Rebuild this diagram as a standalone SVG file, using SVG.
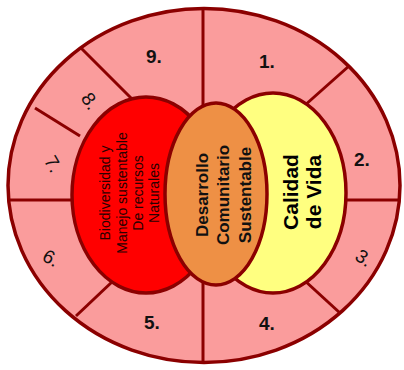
<svg xmlns="http://www.w3.org/2000/svg" width="404" height="370" viewBox="0 0 404 370">
<style>
.ln{stroke:#8B0000;stroke-width:3;fill:none;stroke-linecap:butt}
.sh{stroke:#8B0000;stroke-width:3.5}
.num{font-family:"Liberation Sans",Arial,sans-serif;font-size:19px;fill:#111}
.b{font-weight:bold}
.rt{font-family:"Liberation Sans",Arial,sans-serif;font-size:14px;fill:#2a0000;text-anchor:middle}
.ot{font-family:"Liberation Sans",Arial,sans-serif;font-size:17px;font-weight:bold;fill:#111;text-anchor:middle}
.yt{font-family:"Liberation Sans",Arial,sans-serif;font-size:21px;font-weight:bold;fill:#000;text-anchor:middle}
</style>
<rect width="404" height="370" fill="#fff"/>
<g id="ring">
<ellipse cx="204" cy="185.5" rx="196" ry="177" fill="#FA9C9C" class="sh"/>
</g>
<g id="connectors">
<line class="ln" x1="203" y1="9" x2="203" y2="108"/>
<line class="ln" x1="203" y1="282" x2="203" y2="362"/>
<line class="ln" x1="9" y1="200" x2="75" y2="200"/>
<line class="ln" x1="343" y1="200" x2="399" y2="200"/>
<line class="ln" x1="81" y1="48" x2="134" y2="101"/>
<line class="ln" x1="35" y1="108" x2="80" y2="136"/>
<line class="ln" x1="349" y1="66" x2="304" y2="106"/>
<line class="ln" x1="304" y1="280" x2="340" y2="313"/>
<line class="ln" x1="76" y1="316" x2="113" y2="281"/>
</g>
<g id="biodiversidad">
<ellipse cx="146" cy="195" rx="74" ry="98" fill="#FF0000" class="sh"/>
<text class="rt" transform="translate(110,193) rotate(-90)">Biodiversidad y</text>
<text class="rt" transform="translate(126.5,193) rotate(-90)">Manejo sustentable</text>
<text class="rt" transform="translate(142.5,193) rotate(-90)">De recursos</text>
<text class="rt" transform="translate(159,193) rotate(-90)">Naturales</text>
</g>
<g id="calidad">
<ellipse cx="273" cy="193" rx="73" ry="100" fill="#FFFF80" class="sh"/>
<text class="yt" transform="translate(298,192) rotate(-90)">Calidad</text>
<text class="yt" transform="translate(321,192) rotate(-90)">de Vida</text>
</g>
<g id="desarrollo">
<ellipse cx="216" cy="194" rx="51" ry="91" fill="#EE9045" class="sh"/>
<text class="ot" transform="translate(208,195) rotate(-90)">Desarrollo</text>
<text class="ot" transform="translate(229,195) rotate(-90)">Comunitario</text>
<text class="ot" transform="translate(251,195) rotate(-90)">Sustentable</text>
</g>
<g id="n9"><text class="num b" x="146" y="63">9.</text></g>
<g id="n1"><text class="num b" x="259" y="68">1.</text></g>
<g id="n2"><text class="num b" x="354" y="166">2.</text></g>
<g id="n3"><text class="num" text-anchor="middle" dominant-baseline="central" transform="translate(364,258) rotate(35)">3.</text></g>
<g id="n4"><text class="num b" x="259" y="330">4.</text></g>
<g id="n5"><text class="num b" x="144" y="329">5.</text></g>
<g id="n6"><text class="num" text-anchor="middle" dominant-baseline="central" transform="translate(51,258) rotate(30)">6.</text></g>
<g id="n7"><text class="num" text-anchor="middle" dominant-baseline="central" transform="translate(53,164) rotate(60)">7.</text></g>
<g id="n8"><text class="num" text-anchor="middle" dominant-baseline="central" transform="translate(90,101) rotate(55)">8.</text></g>
</svg>
